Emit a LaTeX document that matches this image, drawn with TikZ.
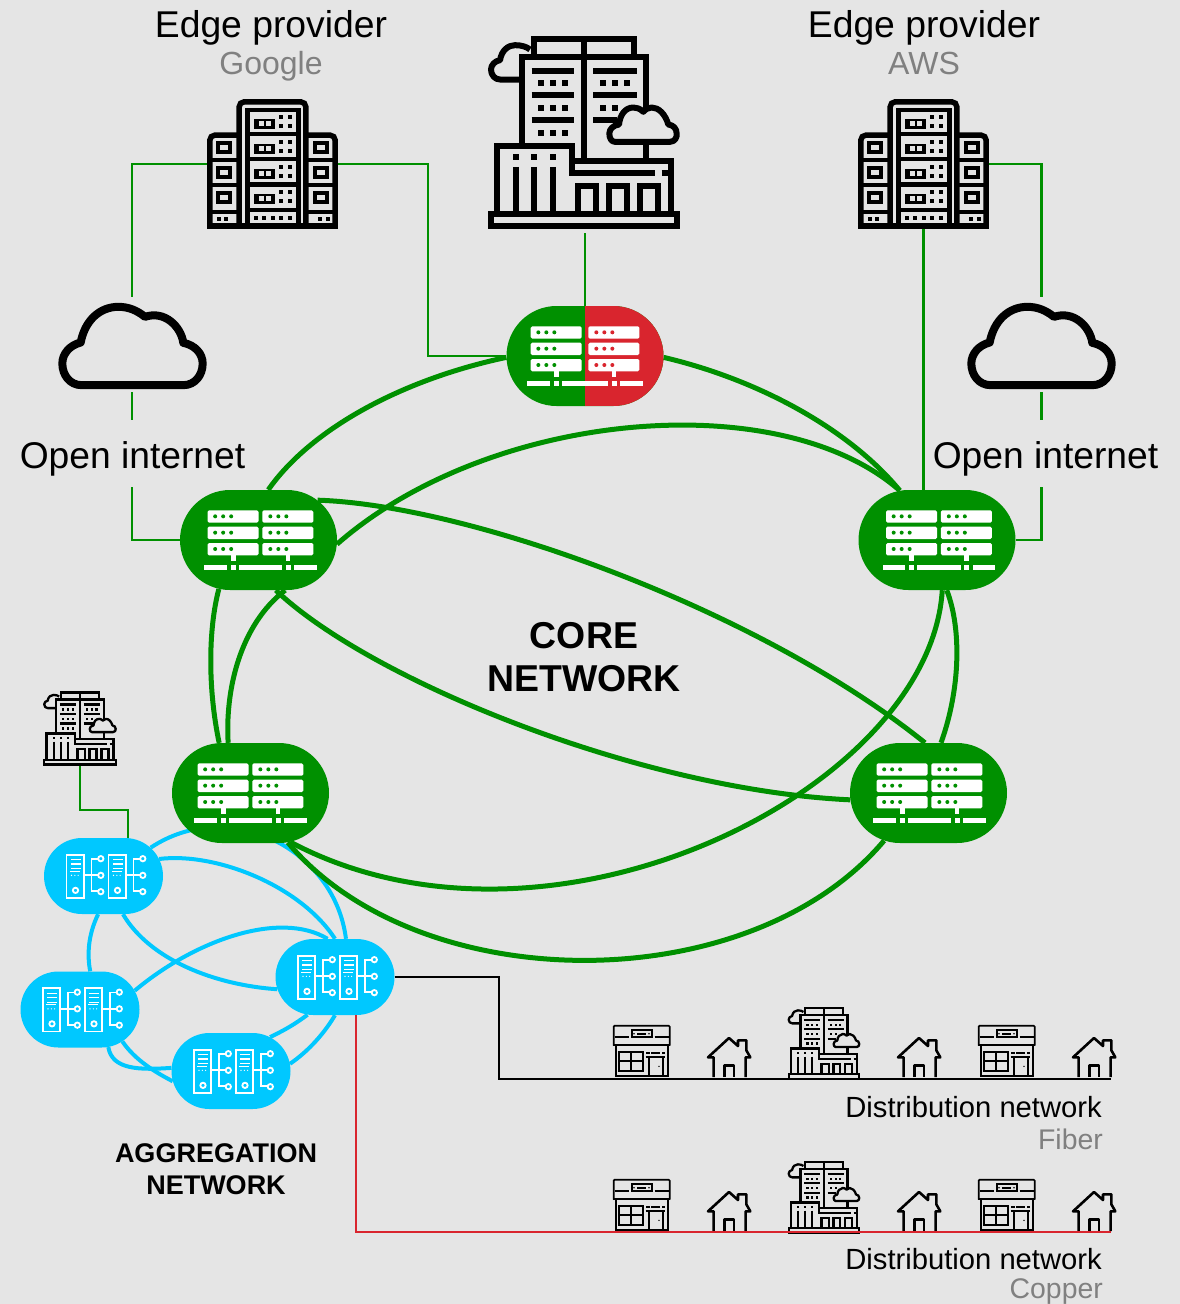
\documentclass[tikz,border=0pt]{standalone}
\usepackage{fontspec}
\setmainfont{Liberation Sans}
\usetikzlibrary{shapes.misc}
\definecolor{bgc}{HTML}{E5E5E5}
\definecolor{corec}{HTML}{009000}
\definecolor{aggc}{HTML}{00C8FF}
\definecolor{redc}{HTML}{D9252E}
\definecolor{greyc}{HTML}{808080}
\pgfdeclarelayer{bglayer}
\pgfdeclarelayer{edgelayer}
\pgfsetlayers{bglayer,edgelayer,main}
\tikzset{
  corenode/.style={rounded rectangle,fill=corec,minimum width=157pt,minimum height=100pt,inner sep=0pt},
  aggnode/.style={rounded rectangle,fill=aggc,minimum width=119pt,minimum height=76pt,inner sep=0pt},
  iconbox/.style={rectangle,inner sep=0pt},
  corelink/.style={corec,line width=5pt},
  agglink/.style={aggc,line width=4pt},
  thinlink/.style={corec,line width=2.6pt},
  heading/.style={anchor=base,inner sep=0pt,font=\fontsize{37.3}{37.3}\selectfont},
  subheading/.style={anchor=base,inner sep=0pt,text=greyc,font=\fontsize{32}{32}\selectfont},
  dist/.style={anchor=base east,inner sep=0pt,font=\fontsize{29.2}{29.2}\selectfont},
  distsub/.style={anchor=base east,inner sep=0pt,text=greyc,font=\fontsize{28.4}{28.4}\selectfont},
  corelabel/.style={anchor=base,inner sep=0pt,font=\bfseries\fontsize{37.4}{37.4}\selectfont},
  agglabel/.style={anchor=base,inner sep=0pt,font=\bfseries\fontsize{27}{27}\selectfont},
  openlabel/.style={anchor=north,inner sep=0pt,text height=48pt,text depth=19pt,font=\fontsize{37.2}{37.2}\selectfont},
}
% white router glyph: #1 node, #2 x offset of the whole, #3 left dots, #4 right dots, #5 x offset of left block
\newcommand\rtricon[5]{%
\begin{scope}[shift={(#1.center)},xshift=#2pt,scale=0.33333,shift={(-255,-168)}]
  \foreach \yy in {79,128,177}{
    \fill[white,rounded corners=1.5pt] (92+#5,\yy) rectangle (245+#5,\yy+37);
    \fill[white,rounded corners=1.5pt] (265,\yy) rectangle (418,\yy+37);
    \foreach \xx in {115,139,163}\fill[#3] (\xx+#5,\yy+18) circle (6);
    \foreach \xx in {289,313,337}\fill[#4] (\xx,\yy+18) circle (6);
  }
  \fill[white] (162+#5,214) rectangle (176+#5,232);
  \fill[white] (335,214) rectangle (349,232);
  \foreach \aa/\bb in {82/150,162/176}\fill[white] (\aa+#5,243) rectangle (\bb+#5,257);
  \foreach \aa/\bb in {335/350,360/428}\fill[white] (\aa,243) rectangle (\bb,257);
  \fill[white] (186+#5,243) rectangle (325,257);
\end{scope}}
% white aggregation glyph
\newcommand\aggicon[1]{%
\begin{scope}[shift={(#1.center)},scale=0.33333,shift={(-251,-139)}]
  \foreach \dd in {0,126}{
  \begin{scope}[shift={(\dd,0)},white,line width=1.8pt]
    \draw (140,75) rectangle (192,205);
    \foreach \yy in {90,103,117}\draw[line width=1.3pt] (153,\yy) -- (183,\yy);
    \draw[line width=1.3pt] (150,125) -- (180,125);
    \foreach \xx in {155,165,175}\fill (\xx,137) circle (2);
    \draw (167,182) circle (8);
    \draw (192,137) -- (235,137);
    \draw (235,88) -- (215,88) -- (215,185) -- (235,185);
    \foreach \yy in {87,137,186}\draw[fill=aggc] (243,\yy) circle (8);
  \end{scope}}
\end{scope}}
% server rack pictogram, centred on a node
\newcommand\rackicon[1]{%
\begin{scope}[shift={(#1.center)},scale=0.33333,shift={(-247,-221.5)},black]
  \draw[line width=5.5pt,rounded corners=5pt] (147,408) -- (147,35) -- (347,35) -- (347,408);
  \draw[line width=5.5pt,rounded corners=5pt] (147,135) -- (59,135) -- (59,408);
  \draw[line width=5.5pt,rounded corners=5pt] (347,135) -- (435,135) -- (435,408);
  \draw[line width=5.5pt] (50,408) -- (444,408);
  \draw[line width=4.5pt] (172,60) -- (172,400) (325,60) -- (325,400);
  \foreach \yy in {60,132,207,283,360}\draw[line width=4.5pt] (165,\yy) -- (332,\yy);
  \foreach \yy in {210,285,365}{\draw[line width=4.5pt] (60,\yy) -- (147,\yy);\draw[line width=4.5pt] (347,\yy) -- (434,\yy);}
  \foreach \yy in {172,247,322}{
    \draw[line width=4pt] (84,\yy-13) rectangle (120,\yy+13);
    \draw[line width=4pt] (375,\yy-13) rectangle (411,\yy+13);}
  \foreach \yy in {100,175,250,325}{
    \fill (190,\yy-15) rectangle (255,\yy+15);
    \fill[bgc] (205,\yy-7) rectangle (220,\yy+7);
    \fill[bgc] (228,\yy-7) rectangle (243,\yy+7);
    \foreach \xx in {272,298}{\fill (\xx-6,\yy-26) rectangle (\xx+6,\yy-14);\fill (\xx-6,\yy) rectangle (\xx+6,\yy+12);}}
  \foreach \xx in {197,222,247,272,298}\fill (\xx-6,377) rectangle (\xx+6,389);
  \foreach \xx in {85,107,390,412}\fill (\xx-6,379) rectangle (\xx+6,391);
\end{scope}}
% building pictogram: #1 centre x, #2 centre y, #3 size factor
\newcommand\bldgicon[3]{%
\begin{scope}[shift={(#1,#2)},scale=#3/3,shift={(-312,-307)},black,line width=6pt*#3,line join=miter]
  \draw (163,81) -- (163,27) -- (461,27) -- (461,81);
  \draw (127,340) -- (127,81) -- (497,81) -- (497,232);
  \draw (312,27) -- (312,385);
  \foreach \yy in {121,195,269}\draw (155,\yy) -- (283,\yy);
  \foreach \yy in {121,195}\draw (340,\yy) -- (470,\yy);
  \draw (340,269) -- (410,269);
  \foreach \yy in {158,232,307}\foreach \xx in {182,219,256}\fill (\xx-9,\yy-9) rectangle (\xx+9,\yy+9);
  \foreach \yy in {158,232}\foreach \xx in {368,405}\fill (\xx-9,\yy-9) rectangle (\xx+9,\yy+9);
  \fill (432,149) rectangle (450,167);
  \draw[line join=round] (125,148) -- (60,148) .. controls (45,148) and (33,135) .. (33,118) .. controls (33,105) and (45,92) .. (60,90) .. controls (65,60) and (85,45) .. (105,45) .. controls (125,45) and (140,50) .. (150,58);
  \draw[line join=round] (405,335) -- (570,335) .. controls (585,335) and (592,320) .. (590,310) .. controls (590,295) and (580,285) .. (565,283) .. controls (555,250) and (535,232) .. (515,232) .. controls (505,232) and (495,238) .. (490,245) .. controls (480,235) and (470,232) .. (460,232) .. controls (435,232) and (420,255) .. (417,283) .. controls (400,285) and (388,297) .. (388,310) .. controls (388,325) and (395,335) .. (405,335) -- cycle;
  \draw (497,340) -- (497,385);
  \draw (52,545) -- (52,347) -- (275,347) -- (275,428) -- (525,428);
  \draw (545,428) -- (565,428);
  \draw (284,391) -- (572,391) -- (572,545);
  \foreach \xx in {107,163,219}{\fill (\xx-9,372) rectangle (\xx+9,390);\draw (\xx,410) -- (\xx,545);}
  \draw (293,541) -- (293,467) -- (349,467) -- (349,541);
  \draw (387,541) -- (387,467) -- (441,467) -- (441,541);
  \draw (479,541) -- (479,467) -- (535,467) -- (535,541);
  \draw (33,550) rectangle (591,587);
\end{scope}}
% cloud pictogram
\newcommand\cloudicon[2]{%
\begin{scope}[shift={(#1.center)},xshift=#2pt,scale=0.33333,shift={(-247.5,-148)},black,line width=8pt,line join=round]
  \draw (95,270) -- (400,270) .. controls (435,270) and (458,240) .. (458,205) .. controls (458,175) and (435,150) .. (400,143) .. controls (393,95) and (345,45) .. (285,65) .. controls (260,45) and (235,35) .. (205,35) .. controls (150,35) and (105,75) .. (92,142) .. controls (60,150) and (37,175) .. (37,205) .. controls (37,240) and (60,270) .. (95,270) -- cycle;
\end{scope}}
% shop pictogram: #1 left, #2 top
\newcommand\shopicon[2]{%
\begin{scope}[shift={(#1,#2)},scale=0.33333,shift={(-295,-90)},black,line width=1.7pt]
  \draw[rounded corners=1pt] (297,152) -- (297,92) -- (465,92) -- (465,152);
  \draw[line width=2.4pt] (295,150) -- (467,150);
  \draw (300,125) -- (342,125) (420,125) -- (465,125);
  \draw (351,105) rectangle (411,126);
  \draw (367,116) -- (395,116);
  \fill (358,116) circle (2.5) (403,116) circle (2.5);
  \draw (303,152) -- (303,244) -- (460,244) -- (460,152);
  \draw[line width=2pt] (314,170) rectangle (385,228);
  \draw[line width=2pt] (349,170) -- (349,228) (314,199) -- (385,199);
  \draw (402,244) -- (402,185) (445,185) -- (445,244);
  \draw[line width=2pt] (393,185) -- (452,185);
  \draw (395,174) -- (405,174) (410,174) -- (437,174) (442,174) -- (452,174);
  \fill (433,214) circle (2.5);
\end{scope}}
% house pictogram: #1 left, #2 top
\newcommand\houseicon[2]{%
\begin{scope}[shift={(#1,#2)},scale=0.33333,shift={(-52,-125)},black,line width=2.6pt,line join=round]
  \draw (72,245) -- (72,186) -- (55,186) -- (118,128) -- (145,152) -- (145,135) -- (170,135) -- (170,165) -- (182,186) -- (168,186) -- (168,245);
  \draw (104,245) -- (104,210) -- (133,210) -- (133,245);
\end{scope}}
\begin{document}
\begin{tikzpicture}[x=1pt,y=-1pt]
\useasboundingbox (0,0) rectangle (1180,1304);
\begin{pgfonlayer}{bglayer}
  \fill[bgc] (0,0) rectangle (1180,1304);
\end{pgfonlayer}

% core nodes
\node[corenode,path picture={\fill[redc] (path picture bounding box.south) rectangle (path picture bounding box.north east);}] (T) at (585,356) {};
\node[corenode] (L) at (258.5,540) {};
\node[corenode] (R) at (937,540) {};
\node[corenode] (BL) at (250.5,793) {};
\node[corenode] (BR) at (928.5,793) {};
% aggregation nodes
\node[aggnode] (A) at (103.5,876) {};
\node[aggnode] (B) at (80,1009.5) {};
\node[aggnode] (C) at (231,1071) {};
\node[aggnode] (D) at (335,977) {};
% pictogram boxes
\node[iconbox,minimum width=131pt,minimum height=130pt] (google) at (272.5,164) {};
\node[iconbox,minimum width=131pt,minimum height=130pt] (aws) at (923.5,164) {};
\node[iconbox,minimum width=192pt,minimum height=197pt] (bldg) at (584,134.5) {};
\node[iconbox,minimum width=74pt,minimum height=73pt] (sbldg) at (80,728.5) {};
\node[iconbox,minimum width=149pt,minimum height=95pt] (cloudL) at (132,344.5) {};
\node[iconbox,minimum width=149pt,minimum height=95pt] (cloudR) at (1041.5,344.5) {};
% labels
\node[openlabel] (oiL) at (132.5,420) {Open internet};
\node[openlabel] (oiR) at (1045.5,420) {Open internet};
\node[heading] (g1) at (271,37) {Edge provider};
\node[subheading] (g2) at (271,74) {Google};
\node[heading] (a1) at (924,37) {Edge provider};
\node[subheading] (a2) at (924,74) {AWS};
\node[corelabel] (c1) at (584,648) {CORE};
\node[corelabel] (c2) at (584,691) {NETWORK};
\node[agglabel] (n1) at (216,1162) {AGGREGATION};
\node[agglabel] (n2) at (216,1194) {NETWORK};
\node[dist] (d1) at (1102,1117) {Distribution network};
\node[distsub] (d2) at (1103,1149) {Fiber};
\node[dist] (d3) at (1102,1269) {Distribution network};
\node[distsub] (d4) at (1103,1298) {Copper};

\coordinate (sbk) at (128,810);
\coordinate (bk) at (499,1079);
\coordinate (fibEnd) at (1111,1079);
\coordinate (redx) at (356,1015);
\coordinate (cuEnd) at (1111,1232);

\begin{pgfonlayer}{edgelayer}
  % thin access links
  \draw[thinlink] (google.west) -| (cloudL.north);
  \draw[thinlink] (cloudL.south) -- (cloudL.south |- oiL.north);
  \draw[thinlink] (cloudL.south |- oiL.south) |- (L.west);
  \draw[thinlink] (google.east) -| (428,356) -- (T.west);
  \draw[thinlink] (T.north |- bldg.south) -- (T.north);
  \draw[thinlink] (aws.east) -| (cloudR.north);
  \draw[thinlink] (cloudR.south) -- (cloudR.south |- oiR.north);
  \draw[thinlink] (cloudR.south |- oiR.south) |- (R.east);
  \draw[thinlink] (aws.south) -- (aws.south |- R.north);
  \draw[thinlink] (sbldg.south) |- (sbk) -- (sbk |- A.north);
  % aggregation mesh
  \draw[agglink] (A.31) .. controls (230,795) and (335,850) .. (D.74);
  \draw[agglink] (A.17.7) .. controls (215,852) and (300,885) .. (D.90);
  \draw[agglink] (A.-63.4) .. controls (150,960) and (215,985) .. (D.192.6);
  \draw[agglink] (A.262) .. controls (88,935) and (87,955) .. (B.75);
  \draw[agglink] (B.19.5) .. controls (195,940) and (280,910) .. (D.101.6);
  \draw[agglink] (B.-37.7) .. controls (135,1060) and (155,1072) .. (C.190.7);
  \draw[agglink] (B.-53.3) .. controls (112,1070) and (140,1070) .. (C.177);
  \draw[agglink] (C.41) .. controls (285,1030) and (295,1024) .. (D.234.6);
  \draw[agglink] (C.7.7) .. controls (310,1050) and (325,1032) .. (D.270);
  % core mesh
  \draw[corelink] (T.181.5) .. controls (400,380) and (310,430) .. (L.79);
  \draw[corelink] (T.-1.5) .. controls (760,380) and (850,430) .. (R.127.6);
  \draw[corelink] (L.-3.7) .. controls (490,410) and (780,385) .. (R.127.6);
  \draw[corelink] (L.34) .. controls (470,505) and (760,610) .. (BR.94);
  \draw[corelink] (L.-71.7) .. controls (370,680) and (640,790) .. (BR.185);
  \draw[corelink] (L.231.3) .. controls (208,630) and (208,690) .. (BL.122.4);
  \draw[corelink] (L.-62) .. controls (240,625) and (225,690) .. (BL.114);
  \draw[corelink] (R.-79.8) .. controls (962,630) and (960,690) .. (BR.76.5);
  \draw[corelink] (R.-84.3) .. controls (930,790) and (550,980) .. (BL.-51.4);
  \draw[corelink] (BL.-53.7) .. controls (420,1000) and (750,1000) .. (BR.227.2);
\end{pgfonlayer}

% glyphs inside nodes
\rtricon{T}{0}{corec}{redc}{0}
\rtricon{L}{0.5}{corec}{corec}{8.5}
\rtricon{R}{0.5}{corec}{corec}{8.5}
\rtricon{BL}{-1.5}{corec}{corec}{8.5}
\rtricon{BR}{-0.5}{corec}{corec}{8.5}
\aggicon{A}
\aggicon{B}
\aggicon{C}
\aggicon{D}
% pictograms
\rackicon{google}
\rackicon{aws}
\bldgicon{584}{132.5}{1}
\bldgicon{80}{728.5}{0.385}
\cloudicon{cloudL}{0.5}
\cloudicon{cloudR}{0}
\foreach \ss/\hh in {1025/1037, 1179/1191}{
  \shopicon{613}{\ss}
  \shopicon{978}{\ss}
  \houseicon{707}{\hh}
  \houseicon{897}{\hh}
  \houseicon{1072}{\hh}
}
\bldgicon{824}{1043.5}{0.38}
\bldgicon{824}{1197.5}{0.38}
% distribution lines
\draw[black,line width=2.5pt] (D.east) -| (bk) -- (fibEnd);
\draw[redc,line width=2.8pt] (D.south -| redx) |- (cuEnd);
\end{tikzpicture}
\end{document}
